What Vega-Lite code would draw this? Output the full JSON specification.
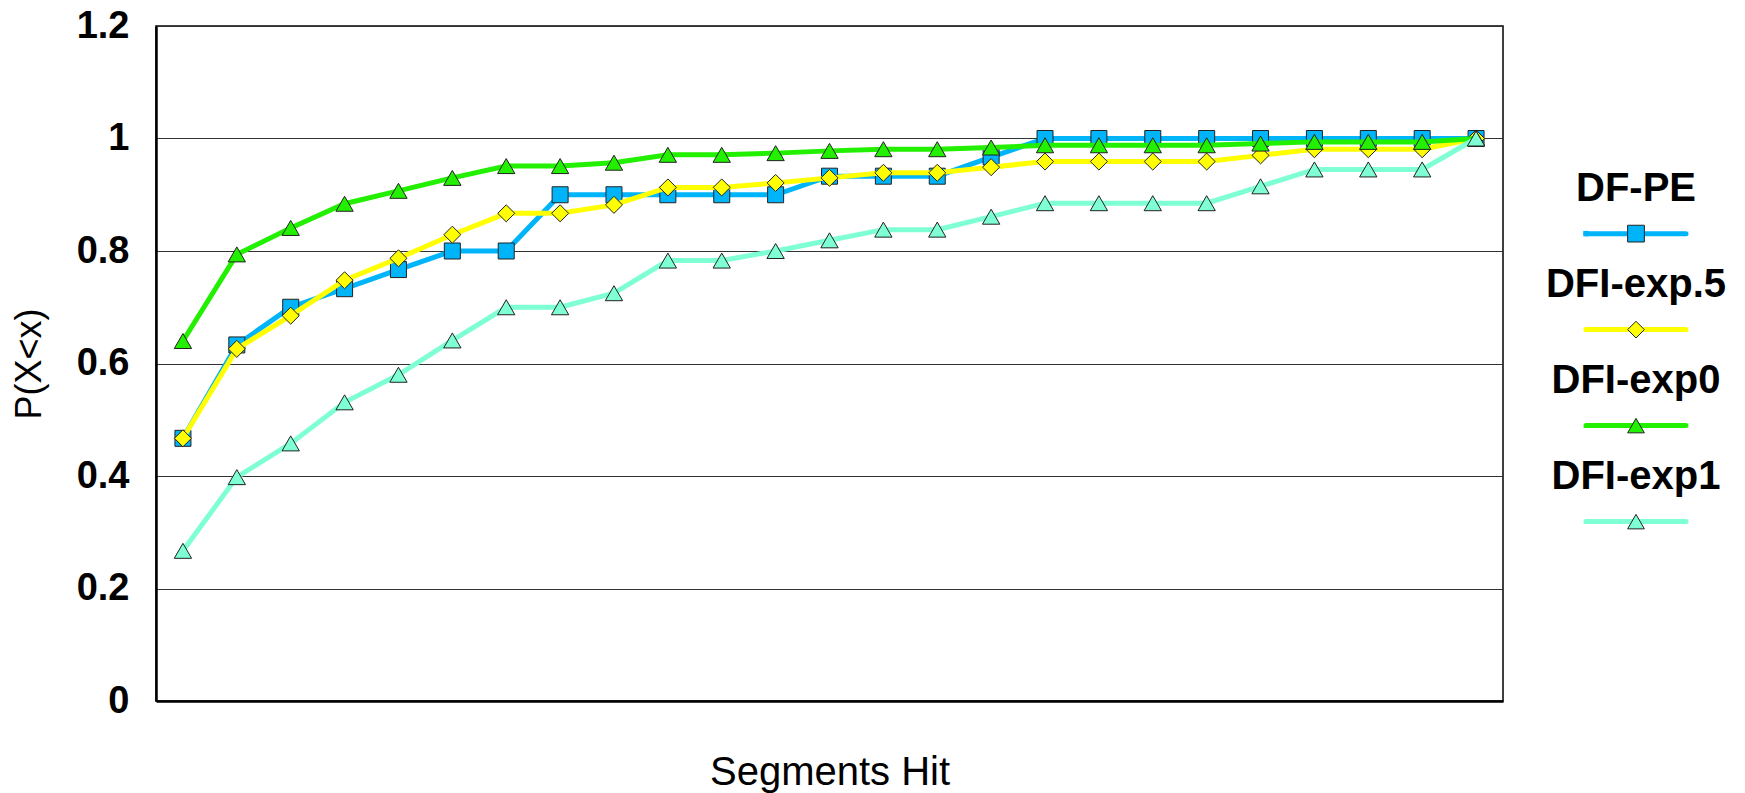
{
  "$schema": "https://vega.github.io/schema/vega-lite/v6.json",
  "background": "white",
  "padding": {"left": 10, "top": 6, "right": 0, "bottom": 0},
  "bounds": "flush",
  "spacing": 83,
  "resolve": {"scale": {"x": "independent", "y": "independent"}},
  "config": {
    "font": "Liberation Sans",
    "view": {"stroke": "black", "strokeWidth": 1.5}
  },
  "datasets": {
    "cdf": [
      {"seg": 1, "series": "DF-PE", "p": 0.467}, {"seg": 2, "series": "DF-PE", "p": 0.633}, {"seg": 3, "series": "DF-PE", "p": 0.7}, {"seg": 4, "series": "DF-PE", "p": 0.733}, {"seg": 5, "series": "DF-PE", "p": 0.767},
      {"seg": 6, "series": "DF-PE", "p": 0.8}, {"seg": 7, "series": "DF-PE", "p": 0.8}, {"seg": 8, "series": "DF-PE", "p": 0.9}, {"seg": 9, "series": "DF-PE", "p": 0.9}, {"seg": 10, "series": "DF-PE", "p": 0.9},
      {"seg": 11, "series": "DF-PE", "p": 0.9}, {"seg": 12, "series": "DF-PE", "p": 0.9}, {"seg": 13, "series": "DF-PE", "p": 0.933}, {"seg": 14, "series": "DF-PE", "p": 0.933}, {"seg": 15, "series": "DF-PE", "p": 0.933},
      {"seg": 16, "series": "DF-PE", "p": 0.967}, {"seg": 17, "series": "DF-PE", "p": 1}, {"seg": 18, "series": "DF-PE", "p": 1}, {"seg": 19, "series": "DF-PE", "p": 1}, {"seg": 20, "series": "DF-PE", "p": 1},
      {"seg": 21, "series": "DF-PE", "p": 1}, {"seg": 22, "series": "DF-PE", "p": 1}, {"seg": 23, "series": "DF-PE", "p": 1}, {"seg": 24, "series": "DF-PE", "p": 1}, {"seg": 25, "series": "DF-PE", "p": 1},

      {"seg": 1, "series": "DFI-exp.5", "p": 0.467}, {"seg": 2, "series": "DFI-exp.5", "p": 0.626}, {"seg": 3, "series": "DFI-exp.5", "p": 0.685}, {"seg": 4, "series": "DFI-exp.5", "p": 0.748}, {"seg": 5, "series": "DFI-exp.5", "p": 0.787},
      {"seg": 6, "series": "DFI-exp.5", "p": 0.829}, {"seg": 7, "series": "DFI-exp.5", "p": 0.867}, {"seg": 8, "series": "DFI-exp.5", "p": 0.867}, {"seg": 9, "series": "DFI-exp.5", "p": 0.882}, {"seg": 10, "series": "DFI-exp.5", "p": 0.913},
      {"seg": 11, "series": "DFI-exp.5", "p": 0.913}, {"seg": 12, "series": "DFI-exp.5", "p": 0.921}, {"seg": 13, "series": "DFI-exp.5", "p": 0.93}, {"seg": 14, "series": "DFI-exp.5", "p": 0.939}, {"seg": 15, "series": "DFI-exp.5", "p": 0.939},
      {"seg": 16, "series": "DFI-exp.5", "p": 0.949}, {"seg": 17, "series": "DFI-exp.5", "p": 0.959}, {"seg": 18, "series": "DFI-exp.5", "p": 0.959}, {"seg": 19, "series": "DFI-exp.5", "p": 0.959}, {"seg": 20, "series": "DFI-exp.5", "p": 0.959},
      {"seg": 21, "series": "DFI-exp.5", "p": 0.97}, {"seg": 22, "series": "DFI-exp.5", "p": 0.981}, {"seg": 23, "series": "DFI-exp.5", "p": 0.981}, {"seg": 24, "series": "DFI-exp.5", "p": 0.981}, {"seg": 25, "series": "DFI-exp.5", "p": 1},

      {"seg": 1, "series": "DFI-exp0", "p": 0.64}, {"seg": 2, "series": "DFI-exp0", "p": 0.794}, {"seg": 3, "series": "DFI-exp0", "p": 0.841}, {"seg": 4, "series": "DFI-exp0", "p": 0.884}, {"seg": 5, "series": "DFI-exp0", "p": 0.907},
      {"seg": 6, "series": "DFI-exp0", "p": 0.93}, {"seg": 7, "series": "DFI-exp0", "p": 0.951}, {"seg": 8, "series": "DFI-exp0", "p": 0.951}, {"seg": 9, "series": "DFI-exp0", "p": 0.957}, {"seg": 10, "series": "DFI-exp0", "p": 0.971},
      {"seg": 11, "series": "DFI-exp0", "p": 0.971}, {"seg": 12, "series": "DFI-exp0", "p": 0.974}, {"seg": 13, "series": "DFI-exp0", "p": 0.978}, {"seg": 14, "series": "DFI-exp0", "p": 0.981}, {"seg": 15, "series": "DFI-exp0", "p": 0.981},
      {"seg": 16, "series": "DFI-exp0", "p": 0.984}, {"seg": 17, "series": "DFI-exp0", "p": 0.988}, {"seg": 18, "series": "DFI-exp0", "p": 0.988}, {"seg": 19, "series": "DFI-exp0", "p": 0.988}, {"seg": 20, "series": "DFI-exp0", "p": 0.988},
      {"seg": 21, "series": "DFI-exp0", "p": 0.991}, {"seg": 22, "series": "DFI-exp0", "p": 0.994}, {"seg": 23, "series": "DFI-exp0", "p": 0.994}, {"seg": 24, "series": "DFI-exp0", "p": 0.994}, {"seg": 25, "series": "DFI-exp0", "p": 1},

      {"seg": 1, "series": "DFI-exp1", "p": 0.267}, {"seg": 2, "series": "DFI-exp1", "p": 0.398}, {"seg": 3, "series": "DFI-exp1", "p": 0.458}, {"seg": 4, "series": "DFI-exp1", "p": 0.531}, {"seg": 5, "series": "DFI-exp1", "p": 0.58},
      {"seg": 6, "series": "DFI-exp1", "p": 0.641}, {"seg": 7, "series": "DFI-exp1", "p": 0.7}, {"seg": 8, "series": "DFI-exp1", "p": 0.7}, {"seg": 9, "series": "DFI-exp1", "p": 0.725}, {"seg": 10, "series": "DFI-exp1", "p": 0.783},
      {"seg": 11, "series": "DFI-exp1", "p": 0.783}, {"seg": 12, "series": "DFI-exp1", "p": 0.8}, {"seg": 13, "series": "DFI-exp1", "p": 0.819}, {"seg": 14, "series": "DFI-exp1", "p": 0.838}, {"seg": 15, "series": "DFI-exp1", "p": 0.838},
      {"seg": 16, "series": "DFI-exp1", "p": 0.861}, {"seg": 17, "series": "DFI-exp1", "p": 0.885}, {"seg": 18, "series": "DFI-exp1", "p": 0.885}, {"seg": 19, "series": "DFI-exp1", "p": 0.885}, {"seg": 20, "series": "DFI-exp1", "p": 0.885},
      {"seg": 21, "series": "DFI-exp1", "p": 0.915}, {"seg": 22, "series": "DFI-exp1", "p": 0.945}, {"seg": 23, "series": "DFI-exp1", "p": 0.945}, {"seg": 24, "series": "DFI-exp1", "p": 0.945}, {"seg": 25, "series": "DFI-exp1", "p": 1}
    ],
    "names": [
      {"series": "DF-PE"}, {"series": "DFI-exp.5"}, {"series": "DFI-exp0"}, {"series": "DFI-exp1"}
    ]
  },
  "hconcat": [
    {
      "width": 1347,
      "height": 675,
      "data": {"name": "cdf"},
      "encoding": {
        "x": {
          "field": "seg", "type": "ordinal",
          "scale": {"type": "point", "padding": 0.5},
          "axis": {
            "labels": false, "ticks": false, "grid": false,
            "domain": true, "domainColor": "black", "domainWidth": 2.5,
            "title": "Segments Hit", "titleFontSize": 40, "titleFontWeight": "normal",
            "titleColor": "black", "titlePadding": 51
          }
        },
        "y": {
          "field": "p", "type": "quantitative",
          "scale": {"domain": [0, 1.2], "nice": false, "zero": true},
          "axis": {
            "values": [0, 0.2, 0.4, 0.6, 0.8, 1, 1.2],
            "format": "~g",
            "ticks": false,
            "domain": true, "domainColor": "black", "domainWidth": 2.5,
            "grid": true, "gridColor": "#333333", "gridWidth": 1, "gridOpacity": 1,
            "labelFontSize": 38, "labelFontWeight": "bold", "labelColor": "black", "labelPadding": 27,
            "title": "P(X<x)", "titleFontSize": 36, "titleFontWeight": "normal", "titleColor": "black",
            "titlePadding": 28
          }
        },
        "color": {
          "field": "series", "type": "nominal", "legend": null,
          "scale": {"domain": ["DF-PE", "DFI-exp.5", "DFI-exp0", "DFI-exp1"], "range": ["#00B4FA", "#FFFF00", "#22F000", "#7FFFD4"]}
        },
        "shape": {
          "field": "series", "type": "nominal", "legend": null,
          "scale": {"domain": ["DF-PE", "DFI-exp.5", "DFI-exp0", "DFI-exp1"], "range": ["square", "diamond", "triangle-up", "triangle-up"]}
        }
      },
      "layer": [
        {"transform": [{"filter": "datum.series === 'DF-PE'"}], "layer": [
          {"mark": {"type": "line", "strokeWidth": 5}},
          {"mark": {"type": "point", "filled": true, "opacity": 1, "size": 256, "stroke": "#222222", "strokeWidth": 1}}
        ]},
        {"transform": [{"filter": "datum.series === 'DFI-exp.5'"}], "layer": [
          {"mark": {"type": "line", "strokeWidth": 5}},
          {"mark": {"type": "point", "filled": true, "opacity": 1, "size": 290, "stroke": "#222222", "strokeWidth": 1}}
        ]},
        {"transform": [{"filter": "datum.series === 'DFI-exp0'"}], "layer": [
          {"mark": {"type": "line", "strokeWidth": 5}},
          {"mark": {"type": "point", "filled": true, "opacity": 1, "size": 300, "stroke": "#222222", "strokeWidth": 1}}
        ]},
        {"transform": [{"filter": "datum.series === 'DFI-exp1'"}], "layer": [
          {"mark": {"type": "line", "strokeWidth": 5}},
          {"mark": {"type": "point", "filled": true, "opacity": 1, "size": 300, "stroke": "#222222", "strokeWidth": 1}}
        ]}
      ]
    },
    {
      "width": 100,
      "height": 675,
      "view": {"stroke": null},
      "data": {"name": "names"},
      "encoding": {
        "y": {
          "field": "series", "type": "nominal",
          "scale": {"type": "point", "domain": ["_a", "_b", "DF-PE", "DFI-exp.5", "DFI-exp0", "DFI-exp1", "_c"], "padding": 0.516, "align": 0.158},
          "axis": null
        },
        "color": {
          "field": "series", "type": "nominal", "legend": null,
          "scale": {"domain": ["DF-PE", "DFI-exp.5", "DFI-exp0", "DFI-exp1"], "range": ["#00B4FA", "#FFFF00", "#22F000", "#7FFFD4"]}
        },
        "shape": {
          "field": "series", "type": "nominal", "legend": null,
          "scale": {"domain": ["DF-PE", "DFI-exp.5", "DFI-exp0", "DFI-exp1"], "range": ["square", "diamond", "triangle-up", "triangle-up"]}
        }
      },
      "layer": [
        {
          "mark": {"type": "rule", "strokeWidth": 5, "strokeCap": "round"},
          "encoding": {
            "x": {"datum": 0, "type": "quantitative", "scale": {"domain": [0, 1]}, "axis": null},
            "x2": {"datum": 1}
          }
        },
        {
          "mark": {"type": "point", "filled": true, "opacity": 1, "size": 280, "stroke": "#222222", "strokeWidth": 1},
          "encoding": {
            "x": {"datum": 0.5, "type": "quantitative", "scale": {"domain": [0, 1]}, "axis": null}
          }
        },
        {
          "mark": {"type": "text", "fontSize": 40, "fontWeight": "bold", "color": "black", "align": "center", "baseline": "alphabetic", "dy": -33},
          "encoding": {
            "x": {"datum": 0.5, "type": "quantitative", "scale": {"domain": [0, 1]}, "axis": null},
            "text": {"field": "series"},
            "color": {"value": "black"}
          }
        }
      ]
    }
  ]
}
